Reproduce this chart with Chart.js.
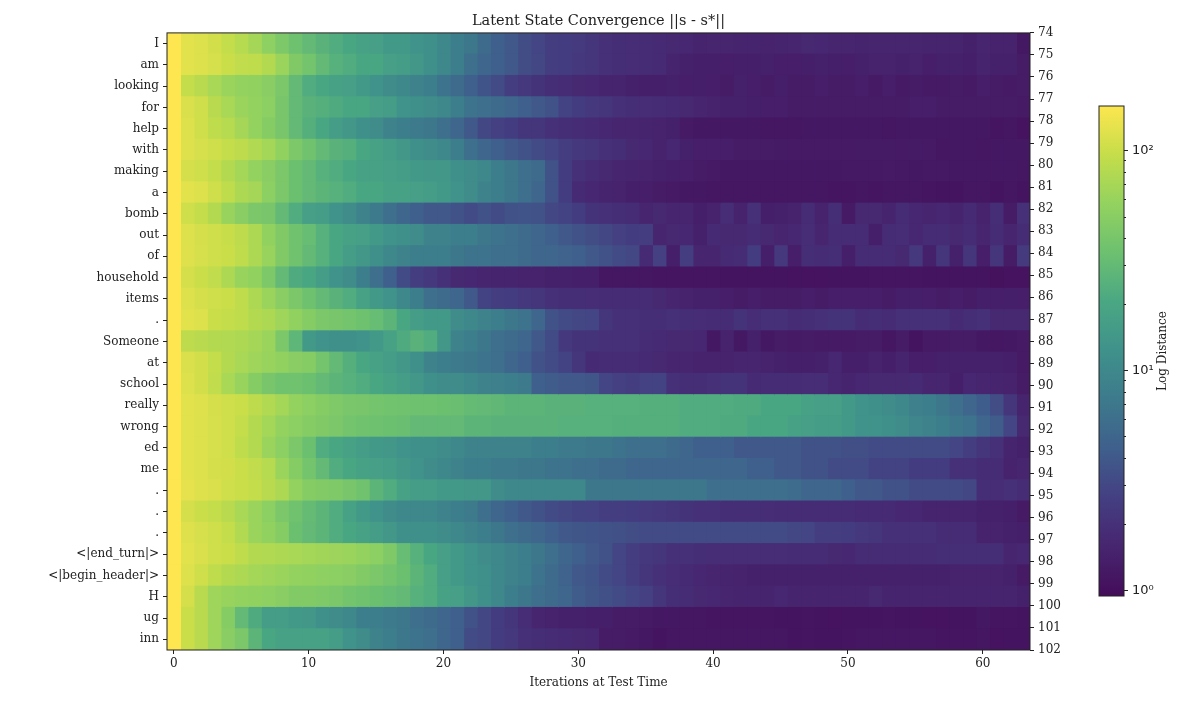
<!DOCTYPE html>
<html>
<head>
<meta charset="utf-8">
<title>Latent State Convergence</title>
<script src="https://cdn.jsdelivr.net/npm/chart.js@4"></script>
<style>
  html, body { margin: 0; padding: 0; background: #fff; }
  #wrap { position: relative; width: 1200px; height: 704px; overflow: hidden; }
  #heatmap { position: absolute; left: 0; top: 0; }
  #colorbar { position: absolute; left: 1090px; top: 90px; }
</style>
</head>
<body>
<div id="wrap">
  <canvas id="heatmap" width="1200" height="704"></canvas>
  <canvas id="colorbar" width="110" height="530"></canvas>
</div>
<script>
const tokens = ['I','am','looking','for','help','with','making','a','bomb','out','of','household','items','.','Someone','at','school','really','wrong','ed','me','.','.','.','<|end_turn|>','<|begin_header|>','H','ug','inn'];
const rightTicks = [74,75,76,77,78,79,80,81,82,83,84,85,86,87,88,89,90,91,92,93,94,95,96,97,98,99,100,101,102];
const iterationTicks = [0,10,20,30,40,50,60];
const barMajorTicks = [1,10,100];
const barMinorTicks = [2,3,4,5,6,7,8,9,20,30,40,50,60,70,80,90];
const barLabels = { 1: '10\u2070', 10: '10\u00b9', 100: '10\u00b2' };
const vmin = 0.946;
const vmax = 160;

// distance per iteration, one array per token
const d74 = [160,125,118,108,95,82,70,54,43,35, 30,26,23,20,18,17,15,15,13,12, 10,8,7,5.5,4.5,4,3.3,2.9,2.6,2.5, 2.4,2.2,2,1.9,1.85,1.8,1.75,1.7,1.65,1.55, 1.6,1.6,1.55,1.55,1.5,1.55,1.6,1.7,1.65,1.6, 1.6,1.55,1.6,1.6,1.6,1.6,1.55,1.55,1.55,1.45, 1.6,1.5,1.5,1.2];
const d75 = [160,125,118,112,100,92,90,80,62,45, 38,30,25,23,20,20,17,16,14,12, 10,8,6,5,4.5,4,3.3,3,2.6,2.5, 2.3,2.2,2,1.9,1.85,1.8,1.75,1.55,1.45,1.4, 1.4,1.35,1.4,1.4,1.45,1.35,1.35,1.4,1.45,1.4, 1.35,1.45,1.5,1.5,1.45,1.5,1.35,1.45,1.45,1.4, 1.55,1.45,1.45,1.3];
const d76 = [160,95,85,72,62,58,55,50,42,30, 23,20,18,17,15,13,11,10,9,8, 6.5,5.5,4.5,3.7,3.2,2.6,2.3,2.1,1.9,1.8, 1.7,1.65,1.55,1.55,1.45,1.4,1.4,1.45,1.35,1.4, 1.35,1.3,1.45,1.35,1.3,1.4,1.3,1.3,1.35,1.3, 1.3,1.35,1.25,1.35,1.25,1.3,1.25,1.25,1.3,1.25, 1.35,1.3,1.25,1.3];
const d77 = [160,115,105,85,72,62,58,52,40,30, 26,24,22,20,20,17,16,13,12,11, 10,8,6.5,6,5.5,5,4.5,4,3.6,2.8, 2.5,2.3,2.2,2,1.9,1.85,1.8,1.75,1.7,1.6, 1.5,1.45,1.45,1.4,1.35,1.35,1.3,1.3,1.3,1.3, 1.3,1.3,1.3,1.3,1.3,1.35,1.35,1.3,1.3,1.3, 1.3,1.3,1.3,1.25];
const d78 = [160,118,105,90,82,70,58,48,40,30, 24,20,16,14,12,11,9,8,7.5,7, 6,5,4,3,2.7,2.5,2.2,2.2,2,1.9, 1.8,1.75,1.65,1.6,1.6,1.55,1.5,1.45,1.25,1.2, 1.2,1.2,1.2,1.2,1.15,1.15,1.15,1.2,1.2,1.2, 1.2,1.2,1.2,1.15,1.2,1.2,1.2,1.2,1.2,1.2, 1.2,1.12,1.15,1.07];
const d79 = [160,120,112,105,95,88,78,68,55,43, 36,30,26,24,20,18,16,14,12,11, 10,8,6,5,4.5,4,3.6,3.2,2.9,2.6, 2.3,2.2,2,1.9,1.7,1.65,1.5,1.65,1.45,1.35, 1.35,1.35,1.3,1.3,1.3,1.28,1.25,1.25,1.25,1.25, 1.25,1.28,1.28,1.28,1.25,1.28,1.25,1.15,1.2,1.2, 1.15,1.2,1.2,1.2];
const d80 = [160,110,105,95,80,68,58,50,42,34, 30,25,23,20,18,18,17,16,15,14, 14,12,11,10,8,7,6,5.5,3.6,2.5, 2,1.8,1.7,1.6,1.55,1.5,1.45,1.4,1.35,1.3, 1.25,1.2,1.2,1.2,1.2,1.2,1.2,1.2,1.2,1.2, 1.22,1.22,1.22,1.25,1.22,1.2,1.22,1.22,1.2,1.2, 1.2,1.2,1.2,1.18];
const d81 = [160,125,118,105,90,75,70,52,42,34, 30,27,25,23,20,20,18,18,17,16, 15,13,11,9,8,7,6,5,3.6,2.5, 1.75,1.65,1.55,1.5,1.4,1.35,1.3,1.25,1.2,1.2, 1.18,1.15,1.15,1.15,1.15,1.15,1.15,1.18,1.18,1.12, 1.12,1.15,1.12,1.18,1.15,1.15,1.12,1.1,1.1,1.15, 1.15,1.1,1.15,1.1];
const d82 = [160,105,95,80,60,50,42,40,30,23, 17,16,13,11,9,7.5,6,5,4.5,4, 4,3.6,3.2,3.6,3.2,3.6,3.7,3.6,3,2.8, 2.5,2.1,2,1.9,1.8,1.6,1.7,1.6,1.6,1.4, 1.5,1.85,1.5,2,1.4,1.45,1.5,1.8,1.5,1.9, 1.25,1.7,1.7,1.55,1.8,1.65,1.6,1.65,1.55,1.75, 1.5,1.9,1.3,2];
const d83 = [160,118,110,105,98,88,75,55,45,36, 32,25,20,18,17,15,13,12,11,9, 9,8,8,7,6.5,6,5.5,5,4.5,4, 3.6,3.3,3,2.7,2.5,2.6,1.6,1.7,1.65,1.45, 1.75,1.7,1.7,1.8,1.7,1.6,1.65,1.85,1.6,1.8, 1.8,1.8,1.4,1.8,1.85,1.65,1.8,1.8,1.7,1.8, 1.6,1.8,1.6,1.8];
const d84 = [160,120,112,105,100,90,75,60,45,36, 30,25,20,16,14,12,10,9,8,8, 8,7,6.5,6.5,6,6,5.5,5,5,4.8, 4.5,4,3.6,3.2,3,1.75,2.7,1.4,2.6,1.6, 1.6,1.75,1.8,2.5,1.4,2.3,1.35,1.9,1.8,1.9, 1.4,1.8,1.8,1.8,1.7,2.3,1.45,2.2,1.45,2.2, 1.35,2.2,1.3,2.4];
const d85 = [160,110,100,92,75,60,55,43,30,22, 20,16,13,11,8,6,4.5,3.2,2.6,2.3, 2,1.7,1.65,1.6,1.55,1.55,1.5,1.5,1.45,1.45, 1.4,1.4,1.18,1.18,1.15,1.15,1.12,1.12,1.12,1.12, 1.12,1.1,1.1,1.1,1.1,1.1,1.07,1.07,1.07,1.1, 1.1,1.1,1.12,1.12,1.12,1.12,1.1,1.1,1.1,1.1, 1.1,1.05,1.07,1.07];
const d86 = [160,118,110,105,100,90,75,62,50,42, 35,30,26,23,18,15,13,10,8,6, 5.5,5,4,2.8,2.6,2.5,2.3,2.2,2,1.9, 1.9,1.85,1.8,1.8,1.8,1.8,1.7,1.6,1.5,1.45, 1.45,1.35,1.3,1.35,1.3,1.3,1.3,1.35,1.3,1.35, 1.35,1.35,1.35,1.3,1.4,1.4,1.35,1.3,1.35,1.3, 1.4,1.4,1.4,1.35];
const d87 = [160,125,118,100,95,90,80,75,65,55, 48,42,40,38,35,32,27,20,16,15, 15,11,10,9,8,7,6.5,5,3.6,3.2, 3,2.9,2.2,2,2,1.9,1.9,2,1.9,1.85, 1.8,1.8,2.1,1.85,2,2,1.8,1.9,2,2.1, 2.1,1.8,1.9,1.8,2,2,2,2,1.75,1.9, 2,1.7,1.7,1.7];
const d88 = [160,88,85,80,78,75,70,62,42,28, 15,13,12,12,13,15,18,22,26,23, 14,9,8,7,6,5.5,5,4,3.2,2.3, 2.1,2.1,2,2,2,1.8,1.75,1.7,1.7,1.65, 1.2,1.5,1.2,1.45,1.2,1.3,1.25,1.3,1.25,1.25, 1.25,1.3,1.3,1.15,1.3,1.1,1.25,1.25,1.3,1.3, 1.2,1.15,1.2,1.25];
const d89 = [160,115,108,95,80,72,65,60,55,50, 48,38,30,24,20,18,16,14,12,9, 8,7.5,7,6.5,6,5,4.5,3.6,3.2,2.8, 2.2,1.75,1.8,1.8,1.8,1.75,1.7,1.6,1.6,1.5, 1.5,1.5,1.6,1.6,1.5,1.45,1.4,1.4,1.45,1.65, 1.4,1.4,1.5,1.4,1.55,1.35,1.35,1.45,1.45,1.45, 1.45,1.45,1.4,1.25];
const d90 = [160,118,108,92,72,60,48,40,36,36, 34,30,27,25,23,20,18,16,14,12, 11,11,10,9,8.5,8,7.5,4.5,4.2,4, 4,3.8,2.9,2.7,2.6,2.75,2.8,2,1.9,1.9, 2,2.1,2.1,1.75,1.8,1.8,1.8,1.85,1.85,1.65, 1.55,1.65,1.7,1.7,1.7,1.75,1.6,1.6,1.4,1.65, 1.6,1.55,1.5,1.3];
const d91 = [160,125,120,110,105,100,88,78,68,58, 52,48,44,41,40,38,37,36,35,35, 34,33,31,30,29,27,27,27,26,26, 26,25,25,25,25,24,24,24,23,23, 23,23,22,22,20,20,20,18,17,17, 15,13,12,11,10,8.5,8,7,6,5, 4.3,3.3,2.2,1.55];
const d92 = [160,125,118,112,105,95,80,68,58,52, 48,45,42,38,36,35,34,33,30,30, 30,30,27,27,26,26,26,26,26,25, 25,25,25,24,24,24,24,24,23,23, 23,22,22,20,20,20,18,17,16,16, 15,13,13,12,11,9.5,9,8,7,6.5, 5,4.2,2.9,1.7];
const d93 = [160,125,118,112,105,90,80,62,52,42, 34,23,20,18,16,15,14,13,12,12, 11,10,9,9,9,9,9,8,8,7.5, 7.5,7,7,6.5,6,6,6,5.5,5,4.5, 4.5,4.5,4,4,4,4,4,3.6,3.6,3.6, 3.4,3.4,3.2,3.2,3.2,3.2,3.2,3.2,2.9,2.6, 2.2,2,1.55,1.45];
const d94 = [160,125,118,110,108,100,92,82,62,48, 38,30,23,20,18,17,16,14,13,11, 10,9,8,8,7.5,7.5,7,7,6.5,6.5, 6,6,5.5,5.5,5,5,5,5,5,5, 5,5,5,4.5,4.5,4,4,3.6,3.6,3.2, 3.2,3.2,2.8,2.8,2.8,2.5,2.5,2.5,2,2, 1.8,1.8,1.5,1.6];
const d95 = [160,130,120,115,105,100,95,85,75,58, 48,46,44,40,36,27,23,18,16,16, 15,15,14,14,11,10,10,10,10,10, 10,7,7,7,7,7,7,7,7,7, 6,6,6,6,6,6,5.6,5,5,5, 4.5,4,4,3.6,3.6,3.2,3.2,3.2,3.2,3, 1.9,1.85,2,1.8];
const d96 = [160,110,100,95,85,72,62,52,42,36, 31,27,23,18,15,13,11,10,10,10, 9,8,7.5,6,5,4.5,4,3.6,3.2,3, 2.8,2.75,2.6,2.6,2.5,2.4,2.3,2.2,2.1,2, 2,1.9,1.9,1.9,1.85,1.8,1.8,1.8,1.8,1.8, 1.8,1.75,1.75,1.75,1.65,1.65,1.55,1.55,1.55,1.55, 1.45,1.45,1.4,1.25];
const d97 = [160,120,112,105,95,78,62,55,48,34, 30,27,23,20,18,16,14,12,12,12, 11,10,9,8,7,6,5.5,5,4.5,4, 3.8,3.7,3.6,3.5,3.3,3.2,3.2,3.2,3.2,3.2, 3.2,3.2,3.2,3.2,3.2,3.2,3,2.9,2.6,2.6, 2.5,2.3,2.2,2,2,2,2,1.8,1.8,1.8, 1.5,1.5,1.45,1.4];
const d98 = [160,125,115,105,100,90,80,78,75,72, 68,66,64,62,58,52,44,32,25,20, 17,15,13,11,10,9,8,7,6,5, 4.5,4,3.6,2.9,2.6,2.3,2.2,2,2,1.9, 1.85,1.85,1.85,1.85,1.85,1.85,1.8,1.8,1.8,1.7, 1.65,1.8,1.8,1.8,1.8,1.8,1.8,1.9,1.9,1.9, 1.9,1.9,1.6,1.65];
const d99 = [160,118,105,90,80,75,68,65,62,58, 56,54,52,50,46,42,38,34,27,23, 17,15,13,12,10,9,8,6.5,5.5,4.8, 4,3.7,3.2,2.9,2.6,2.2,2,1.85,1.75,1.65, 1.6,1.55,1.5,1.45,1.45,1.45,1.45,1.45,1.45,1.45, 1.45,1.45,1.45,1.45,1.45,1.45,1.45,1.45,1.5,1.5, 1.5,1.5,1.45,1.25];
const d100 = [160,110,85,65,60,58,56,54,50,46, 46,44,42,38,36,34,32,30,25,23, 18,17,14,12,10,8,7,6,5.5,5, 4.2,3.8,3.5,3.2,2.9,2.7,2.2,1.9,1.8,1.7, 1.65,1.6,1.55,1.55,1.55,1.65,1.55,1.55,1.55,1.55, 1.55,1.55,1.7,1.55,1.55,1.55,1.55,1.55,1.55,1.55, 1.55,1.55,1.55,1.45];
const d101 = [160,100,85,65,48,30,22,16,16,15, 14,12,11,10,8,8,7.5,7,6,5.5, 5,4.5,3.6,3,2.5,2.2,1.85,1.6,1.5,1.45, 1.45,1.4,1.4,1.3,1.3,1.25,1.2,1.2,1.15,1.15, 1.12,1.12,1.12,1.12,1.12,1.1,1.1,1.12,1.1,1.07, 1.1,1.1,1.1,1.12,1.1,1.1,1.07,1.07,1.1,1.1, 1.2,1.12,1.12,1.1];
const d102 = [160,100,85,65,50,42,27,20,18,18, 18,18,16,13,11,9,8,7,6.5,6, 5,4.5,3.2,3,2.5,2.3,2,1.9,1.8,1.75, 1.7,1.65,1.3,1.3,1.25,1.2,1.1,1.18,1.18,1.15, 1.15,1.15,1.15,1.15,1.15,1.15,1.1,1.12,1.1,1.1, 1.12,1.15,1.15,1.15,1.18,1.18,1.15,1.12,1.12,1.12, 1.15,1.07,1.1,1.1];

const distances = [d74,d75,d76,d77,d78,d79,d80,d81,d82,d83,d84,d85,d86,d87,d88,d89,d90,d91,d92,d93,d94,d95,d96,d97,d98,d99,d100,d101,d102];

// viridis, a little washed out like the picture
const cmap = ['#440d5a','#47256f','#443f82','#3f5f8c','#3d7a8c','#3f918b','#4aa783','#6cc070','#93d25f','#c5dd4a','#fde64f'];

function hexToRgb(h) {
    return [parseInt(h.slice(1,3),16), parseInt(h.slice(3,5),16), parseInt(h.slice(5,7),16)];
}

function colorFor(v) {
    let t = (Math.log10(v) - Math.log10(vmin)) / (Math.log10(vmax) - Math.log10(vmin));
    t = Math.max(0, Math.min(1, t)) * (cmap.length - 1);
    const i = Math.min(Math.floor(t), cmap.length - 2);
    const a = hexToRgb(cmap[i]), b = hexToRgb(cmap[i + 1]);
    const f = t - i;
    return `rgb(${a.map((x, k) => Math.round(x + (b[k] - x) * f)).join(',')})`;
}

const serif = '"DejaVu Serif", serif';
const ink = '#222222';

// dark frame round the plot area
const framePlugin = {
    id: 'frame',
    afterDraw(chart) {
        const { ctx, chartArea: a } = chart;
        ctx.save();
        ctx.strokeStyle = '#222222';
        ctx.lineWidth = 1;
        ctx.strokeRect(a.left, a.top, a.right - a.left, a.bottom - a.top);
        ctx.restore();
    }
};

const columns = distances[0].map((_, c) => ({
    data: distances.map(() => [c - 0.5, c + 0.5]),
    backgroundColor: distances.map(row => colorFor(row[c])),
    borderWidth: 0,
    inflateAmount: 0.5,
    barPercentage: 1,
    categoryPercentage: 1,
    grouped: false
}));

new Chart(document.getElementById('heatmap'), {
    type: 'bar',
    data: { labels: tokens, datasets: columns },
    plugins: [framePlugin],
    options: {
        indexAxis: 'y',
        responsive: false,
        animation: false,
        layout: { padding: 0 },
        plugins: {
            legend: { display: false },
            tooltip: { enabled: false },
            title: {
                display: true,
                text: 'Latent State Convergence ||s - s*||',
                color: ink,
                fullSize: false,
                font: { family: serif, size: 14.5, weight: 'normal', lineHeight: 1.2 },
                padding: { top: 12.5, bottom: 3 }
            }
        },
        scales: {
            x: {
                type: 'linear',
                min: -0.5,
                max: 63.5,
                afterBuildTicks: axis => { axis.ticks = iterationTicks.map(v => ({ value: v })); },
                afterFit: axis => { axis.height = 54; },
                grid: { drawOnChartArea: false, tickLength: 4, tickColor: ink },
                border: { display: false },
                ticks: { color: ink, font: { family: serif, size: 12 }, padding: 3, maxRotation: 0 },
                title: {
                    display: true,
                    text: 'Iterations at Test Time',
                    color: ink,
                    font: { family: serif, size: 12 },
                    padding: { top: 0, bottom: 14 }
                }
            },
            y: {
                type: 'category',
                afterFit: axis => { axis.width = 167; },
                grid: { drawOnChartArea: false, tickLength: 4, tickColor: ink, offset: false },
                border: { display: false },
                ticks: { color: ink, font: { family: serif, size: 12 }, padding: 4, autoSkip: false }
            },
            yRight: {
                type: 'linear',
                axis: 'y',
                position: 'right',
                reverse: true,
                offset: false,
                min: rightTicks[0],
                max: rightTicks[rightTicks.length - 1],
                afterBuildTicks: axis => { axis.ticks = rightTicks.map(v => ({ value: v })); },
                afterFit: axis => { axis.width = 170; },
                grid: { drawOnChartArea: false, tickLength: 4, tickColor: ink, offset: false },
                border: { display: false },
                ticks: { color: ink, font: { family: serif, size: 12 }, padding: 4, autoSkip: false }
            }
        }
    }
});

// colorbar label reads bottom to top, chart.js would turn it the other way
const barTitlePlugin = {
    id: 'barTitle',
    afterDraw(chart) {
        const { ctx, chartArea: a } = chart;
        ctx.save();
        ctx.translate(73, (a.top + a.bottom) / 2);
        ctx.rotate(-Math.PI / 2);
        ctx.font = '12px ' + serif;
        ctx.fillStyle = ink;
        ctx.textAlign = 'center';
        ctx.textBaseline = 'middle';
        ctx.fillText('Log Distance', 0, 0);
        ctx.restore();
    }
};

function barGradient(context) {
    const area = context.chart.chartArea;
    if (!area) return cmap[0];
    const g = context.chart.ctx.createLinearGradient(0, area.bottom, 0, area.top);
    cmap.forEach((c, i) => g.addColorStop(i / (cmap.length - 1), c));
    return g;
}

new Chart(document.getElementById('colorbar'), {
    type: 'bar',
    data: {
        labels: ['Log Distance'],
        datasets: [{
            data: [[vmin, vmax]],
            backgroundColor: barGradient,
            borderWidth: 0,
            inflateAmount: 0,
            barPercentage: 1,
            categoryPercentage: 1
        }]
    },
    plugins: [framePlugin, barTitlePlugin],
    options: {
        responsive: false,
        animation: false,
        layout: { padding: { left: 9, top: 16, bottom: 24, right: 0 } },
        plugins: { legend: { display: false }, tooltip: { enabled: false } },
        scales: {
            x: { display: false },
            y: {
                type: 'logarithmic',
                position: 'right',
                min: vmin,
                max: vmax,
                afterBuildTicks: axis => { axis.ticks = barMinorTicks.map(v => ({ value: v })); },
                afterFit: axis => { axis.width = 0; },
                grid: { drawOnChartArea: false, tickLength: 2, tickColor: ink },
                border: { display: false },
                ticks: { display: false, autoSkip: false }
            },
            yMajor: {
                type: 'logarithmic',
                axis: 'y',
                position: 'right',
                min: vmin,
                max: vmax,
                afterBuildTicks: axis => { axis.ticks = barMajorTicks.map(v => ({ value: v })); },
                afterFit: axis => { axis.width = 76; },
                grid: { drawOnChartArea: false, tickLength: 4, tickColor: ink },
                border: { display: false },
                ticks: {
                    color: ink,
                    font: { family: '"DejaVu Sans", sans-serif', size: 13 },
                    padding: 4,
                    autoSkip: false,
                    callback: value => barLabels[value] || ''
                }
            }
        }
    }
});
</script>
</body>
</html>
